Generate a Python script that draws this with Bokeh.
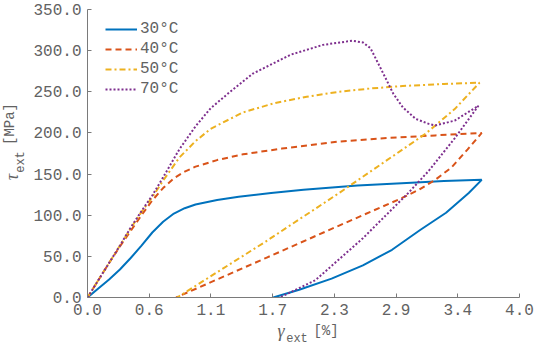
from bokeh.plotting import figure
from bokeh.models import Range1d, FixedTicker, Legend, LegendItem, Div
from bokeh.layouts import row, column
from bokeh.embed import file_html
from bokeh.resources import INLINE

# ---- tick definitions ----
x_ticks = [0.0, 4 / 7, 8 / 7, 12 / 7, 16 / 7, 20 / 7, 24 / 7, 4.0]
x_tick_labels = ["0.0", "0.6", "1.1", "1.7", "2.3", "2.9", "3.4", "4.0"]
y_ticks = [0, 50, 100, 150, 200, 250, 300, 350]
y_tick_labels = ["0.0", "50.0", "100.0", "150.0", "200.0", "250.0", "300.0", "350.0"]

# ---- series (strain %, stress MPa): loading then unloading ----
x30 = [0, 0.1, 0.2, 0.3, 0.4, 0.5, 0.6, 0.7, 0.8, 0.9, 1.0, 1.2, 1.4, 1.7, 2.0, 2.5, 3.0, 3.3, 3.65,
       3.53, 3.32, 3.08, 2.82, 2.55, 2.26, 1.96, 1.72]
y30 = [0, 11, 22, 34, 48, 63, 79, 92, 102, 108.5, 113, 118.5, 122.5, 127, 131, 136, 139.5, 141.5, 143,
       127, 103, 82, 58, 39, 23, 9.4, 0]

x40 = [0, 0.1, 0.2, 0.3, 0.4, 0.5, 0.6, 0.7, 0.8, 0.9, 1.0, 1.2, 1.44, 1.8, 2.33, 2.8, 3.22, 3.65,
       3.52, 3.37, 3.22, 3.07, 2.88, 2.34, 1.66, 0.82]
y40 = [0, 21, 42, 62, 81, 100, 118, 133, 145, 153, 159, 167, 174, 181, 189.5, 194, 197, 200,
       180, 158, 143, 131, 119, 88, 48.5, 0]

x50 = [0, 0.1, 0.2, 0.3, 0.4, 0.5, 0.6, 0.7, 0.85, 1.0, 1.14, 1.44, 1.74, 2.03, 2.33, 2.62, 2.92, 3.3, 3.63,
       3.40, 3.13, 2.33, 1.65, 0.83]
y50 = [0, 21, 42, 63, 84, 104, 122, 142, 170, 190, 205, 225, 236.5, 244, 250, 254, 257, 259.5, 261,
       229, 199, 127, 68, 0]

x70 = [0, 0.1, 0.2, 0.3, 0.4, 0.5, 0.6, 0.7, 0.85, 1.0, 1.14, 1.33, 1.53, 1.88, 2.18, 2.45,
       2.55, 2.62, 2.68, 2.77, 2.83, 2.92, 3.04, 3.16, 3.22, 3.40, 3.62,
       3.40, 3.16, 2.97, 2.55, 2.11, 1.78]
y70 = [0, 21, 42, 63, 85, 105, 124, 146, 180, 208, 230, 251, 272, 295, 307, 312,
       310, 303, 287.5, 264, 248, 231, 217, 211, 209, 215, 233,
       193.5, 154, 127, 72, 21, 0]

series_names = ["30°C", "40°C", "50°C", "70°C"]
series_x = [x30, x40, x50, x70]
series_y = [y30, y40, y50, y70]
colors = ["#0072BD", "#D95319", "#EDB120", "#7E2F8E"]
dashes = ["solid", "6 4", "6 3 2 3", "2 2"]

AX = "#7a7a7a"
TXT = "#626262"
MONO = "Liberation Mono"

YDIV_W = 30
FIG_W = 534 - YDIV_W
FIG_H = 322
XDIV_H = 347 - FIG_H

p = figure(width=FIG_W, height=FIG_H, x_range=Range1d(0, 4), y_range=Range1d(0, 350),
           output_backend="svg", toolbar_location=None,
           min_border_left=86 - YDIV_W, min_border_right=15, min_border_top=9, min_border_bottom=25)
p.grid.visible = False
p.outline_line_color = None

for ax in (p.xaxis[0], p.yaxis[0]):
    ax.axis_line_color = AX
    ax.axis_line_width = 1
    ax.major_tick_line_color = AX
    ax.major_tick_in = 4
    ax.major_tick_out = 0
    ax.minor_tick_line_color = None
    ax.major_label_text_font = MONO
    ax.major_label_text_font_size = "16px"
    ax.major_label_text_color = TXT
    ax.major_label_standoff = 6

p.xaxis.ticker = FixedTicker(ticks=x_ticks)
p.xaxis.major_label_overrides = dict(zip(x_ticks, x_tick_labels))
p.yaxis.ticker = FixedTicker(ticks=y_ticks)
p.yaxis.major_label_overrides = dict(zip(y_ticks, y_tick_labels))

items = []
for name, xs, ys, c, d in zip(series_names, series_x, series_y, colors, dashes):
    r = p.line(xs, ys, line_color=c, line_width=2, line_dash=d)
    items.append(LegendItem(label=name, renderers=[r]))

legend = Legend(items=items, location=(18, 198), padding=0, margin=0, spacing=0,
                glyph_width=32, glyph_height=20, label_height=20, label_standoff=3,
                label_text_font=MONO, label_text_font_size="16px", label_text_color=TXT,
                border_line_alpha=0, background_fill_alpha=0)
p.add_layout(legend)


# ---- axis titles as real HTML text ----
def span(txt, cx, cy, font, size, italic=False, rotate=False):
    tr = "translate(-50%,-50%)" + (" rotate(-90deg)" if rotate else "")
    st = "font-style:italic;" if italic else ""
    return (f'<span style="position:absolute;left:{cx}px;top:{cy}px;transform:{tr};'
            f'white-space:nowrap;font-family:\'{font}\';font-size:{size}px;{st}'
            f'color:{TXT};line-height:1;">{txt}</span>')


ytitle = (f'<div style="position:relative;width:{YDIV_W}px;height:{FIG_H}px;">'
          + span("τ", 12, 177, "Liberation Serif", 18, italic=True, rotate=True)
          + span("ext", 21, 162, MONO, 12, rotate=True)
          + span("[MPa]", 10, 124, MONO, 14, rotate=True)
          + '</div>')
xtitle = (f'<div style="position:relative;width:534px;height:{XDIV_H}px;">'
          + span("γ", 281, 9, "Liberation Serif", 18, italic=True)
          + span("ext", 297, 17, MONO, 12)
          + span("[%]", 326, 9, MONO, 14)
          + '</div>')

ydiv = Div(text=ytitle, width=YDIV_W, height=FIG_H, margin=0)
xdiv = Div(text=xtitle, width=534, height=XDIV_H, margin=0)

layout = column(row(ydiv, p, spacing=0), xdiv, spacing=0)

open("out.html", "w").write(file_html(layout, INLINE))
